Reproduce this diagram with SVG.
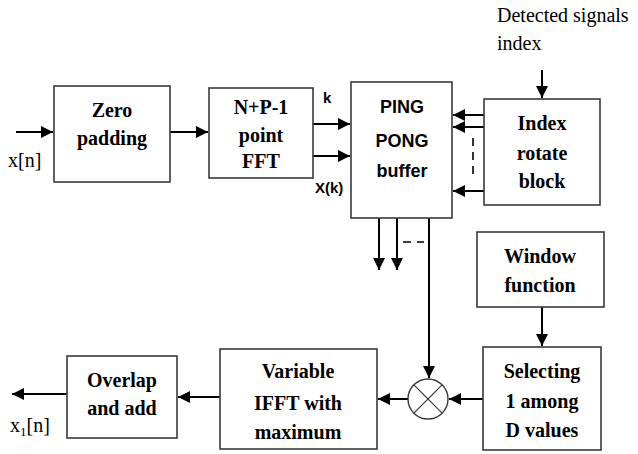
<svg xmlns="http://www.w3.org/2000/svg" width="638" height="454" viewBox="0 0 638 454">
<style>
.box{fill:#fff;stroke:#3a3a3a;stroke-width:1.6}
.t{font-family:"Liberation Serif",serif;font-weight:bold;font-size:20px;text-anchor:middle;fill:#000}
.s{font-family:"Liberation Sans",sans-serif;font-weight:bold;font-size:18px;text-anchor:middle;fill:#000}
.l{font-family:"Liberation Serif",serif;font-size:20px;fill:#000}
.ls{font-family:"Liberation Sans",sans-serif;font-weight:bold;font-size:15px;fill:#000}
.c{fill:none;stroke:#000;stroke-width:2}
.d{fill:none;stroke:#000;stroke-width:1.6;stroke-dasharray:8,6}
</style>
<defs>
<marker id="a" viewBox="0 0 10 10" refX="10" refY="5" markerWidth="6" markerHeight="6" markerUnits="strokeWidth" orient="auto">
<path d="M0,0 L10,5 L0,10 z" fill="#000"/>
</marker>
</defs>
<rect width="638" height="454" fill="#fff"/>
<g id="connectors">
<line class="c" x1="16" y1="132" x2="53" y2="132" marker-end="url(#a)"/>
<line class="c" x1="170" y1="132" x2="208" y2="132" marker-end="url(#a)"/>
<line class="c" x1="313" y1="124" x2="350" y2="124" marker-end="url(#a)"/>
<line class="c" x1="313" y1="156" x2="350" y2="156" marker-end="url(#a)"/>
<line class="c" x1="542" y1="70" x2="542" y2="98" marker-end="url(#a)"/>
<line class="c" x1="484" y1="115" x2="453" y2="115" marker-end="url(#a)"/>
<line class="c" x1="484" y1="127" x2="453" y2="127" marker-end="url(#a)"/>
<line class="c" x1="484" y1="191" x2="453" y2="191" marker-end="url(#a)"/>
<line class="d" x1="473" y1="138" x2="473" y2="175"/>
<line class="c" x1="379" y1="218" x2="379" y2="270" marker-end="url(#a)"/>
<line class="c" x1="397" y1="218" x2="397" y2="270" marker-end="url(#a)"/>
<line class="d" x1="403" y1="242" x2="424" y2="242"/>
<line class="c" x1="429" y1="218" x2="429" y2="378" marker-end="url(#a)"/>
<line class="c" x1="542" y1="307" x2="542" y2="346" marker-end="url(#a)"/>
<line class="c" x1="483" y1="399" x2="449" y2="399" marker-end="url(#a)"/>
<line class="c" x1="408" y1="399" x2="378" y2="399" marker-end="url(#a)"/>
<line class="c" x1="220" y1="397" x2="178" y2="397" marker-end="url(#a)"/>
<line class="c" x1="67" y1="394" x2="12" y2="394" marker-end="url(#a)"/>
</g>
<g id="zero-padding">
<rect class="box" x="54" y="86" width="116" height="96"/>
<text class="t" x="112" y="117">Zero</text>
<text class="t" x="112" y="145">padding</text>
</g>
<g id="fft">
<rect class="box" x="209" y="88" width="104" height="90"/>
<text class="t" x="261" y="114">N+P-1</text>
<text class="t" x="261" y="142">point</text>
<text class="t" x="261" y="168">FFT</text>
</g>
<g id="ping-pong">
<rect class="box" x="351" y="82" width="101" height="136"/>
<text class="s" x="402" y="113">PING</text>
<text class="s" x="402" y="147">PONG</text>
<text class="s" x="402" y="177">buffer</text>
</g>
<g id="index-rotate">
<rect class="box" x="484" y="99" width="116" height="106"/>
<text class="t" x="542" y="130">Index</text>
<text class="t" x="542" y="160">rotate</text>
<text class="t" x="542" y="188">block</text>
</g>
<g id="window">
<rect class="box" x="477" y="232" width="127" height="75"/>
<text class="t" x="540" y="263">Window</text>
<text class="t" x="540" y="292">function</text>
</g>
<g id="selecting">
<rect class="box" x="483" y="347" width="118" height="103"/>
<text class="t" x="542" y="378">Selecting</text>
<text class="t" x="542" y="408">1 among</text>
<text class="t" x="542" y="437">D values</text>
</g>
<g id="multiplier">
<circle cx="428" cy="399" r="20" fill="#fff" stroke="#3a3a3a" stroke-width="1.4"/>
<line x1="413.9" y1="384.9" x2="442.1" y2="413.1" stroke="#3a3a3a" stroke-width="1.2"/>
<line x1="442.1" y1="384.9" x2="413.9" y2="413.1" stroke="#3a3a3a" stroke-width="1.2"/>
</g>
<g id="ifft">
<rect class="box" x="220" y="349" width="157" height="100"/>
<text class="t" x="298" y="378">Variable</text>
<text class="t" x="298" y="410">IFFT with</text>
<text class="t" x="298" y="439">maximum</text>
</g>
<g id="overlap">
<rect class="box" x="67" y="356" width="110" height="82"/>
<text class="t" x="122" y="387">Overlap</text>
<text class="t" x="122" y="415">and add</text>
</g>
<g id="labels">
<text class="l" x="497" y="22">Detected signals</text>
<text class="l" x="497" y="50">index</text>
<text class="l" x="8" y="167">x[n]</text>
<text class="l" x="10" y="432">x<tspan font-size="13" dy="4">1</tspan><tspan dy="-4">[n]</tspan></text>
<text class="ls" x="323" y="103">k</text>
<text class="ls" x="315" y="193">X(k)</text>
</g>
</svg>
